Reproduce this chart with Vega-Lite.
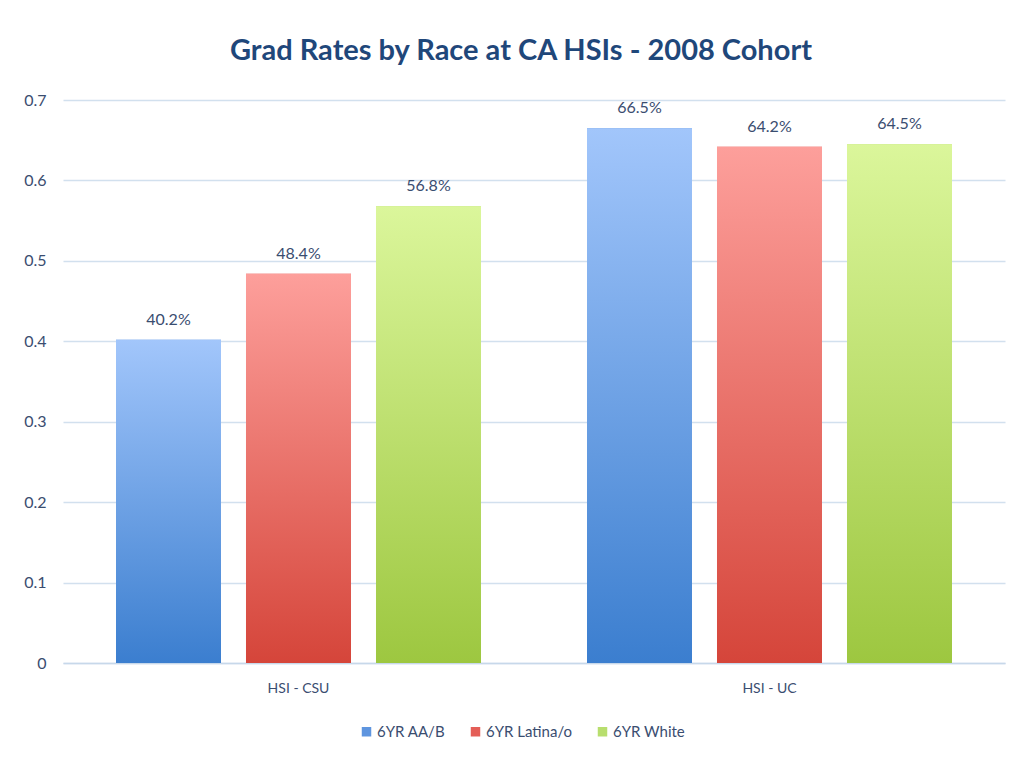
{
  "$schema": "https://vega.github.io/schema/vega-lite/v6.json",
  "width": 942,
  "height": 563,
  "autosize": {"type": "none"},
  "padding": {"left": 63, "top": 100, "right": 12, "bottom": 95},
  "background": "white",
  "title": {
    "text": "Grad Rates by Race at CA HSIs - 2008 Cohort",
    "font": "Lato",
    "fontSize": 29,
    "fontWeight": "bold",
    "color": "#1F477A",
    "anchor": "middle",
    "dx": -13,
    "offset": 26
  },
  "data": {
    "values": [
      {"group": "HSI - CSU", "series": "6YR AA/B", "value": 0.402},
      {"group": "HSI - CSU", "series": "6YR Latina/o", "value": 0.484},
      {"group": "HSI - CSU", "series": "6YR White", "value": 0.568},
      {"group": "HSI - UC", "series": "6YR AA/B", "value": 0.665},
      {"group": "HSI - UC", "series": "6YR Latina/o", "value": 0.642},
      {"group": "HSI - UC", "series": "6YR White", "value": 0.645}
    ]
  },
  "encoding": {
    "x": {
      "field": "group", "type": "nominal", "title": null,
      "scale": {"paddingInner": 0, "paddingOuter": 0},
      "axis": {"labelAngle": 0, "labelFont": "Lato", "labelFontSize": 14, "labelColor": "#3A4D70", "ticks": false, "domainColor": "#C7D8EA", "domainWidth": 1.5, "labelPadding": 18}
    },
    "xOffset": {"field": "series", "type": "nominal", "scale": {"paddingInner": 0.1923, "paddingOuter": 0.4077}},
    "y": {
      "field": "value", "type": "quantitative", "title": null,
      "scale": {"domain": [0, 0.7]},
      "axis": {"values": [0, 0.1, 0.2, 0.3, 0.4, 0.5, 0.6, 0.7], "format": "~g", "labelFont": "Lato", "labelFontSize": 16, "labelColor": "#3A4D70", "ticks": false, "domain": false, "gridColor": "#D2E0EE", "gridWidth": 1.5, "labelPadding": 17}
    }
  },
  "layer": [
    {
      "mark": {"type": "bar"},
      "encoding": {
        "color": {
          "field": "series", "type": "nominal",
          "scale": {"domain": ["6YR AA/B", "6YR Latina/o", "6YR White"], "range": ["#5E95DF", "#E45E57", "#B8DE6E"]},
          "legend": {
            "title": null, "orient": "none", "direction": "horizontal",
            "legendX": 296, "legendY": 624,
            "symbolType": "square", "symbolSize": 90, "symbolStrokeWidth": 0,
            "labelFont": "Lato", "labelFontSize": 15, "labelColor": "#3A4D70",
            "labelOffset": 3, "columnPadding": 22
          }
        }
      }
    },
    {
      "transform": [{"filter": "datum.series === '6YR AA/B'"}],
      "mark": {"type": "bar", "fill": {"gradient": "linear", "x1": 0, "y1": 0, "x2": 0, "y2": 1, "stops": [{"offset": 0, "color": "#A2C6FB"}, {"offset": 1, "color": "#3B7ECF"}]}}
    },
    {
      "transform": [{"filter": "datum.series === '6YR Latina/o'"}],
      "mark": {"type": "bar", "fill": {"gradient": "linear", "x1": 0, "y1": 0, "x2": 0, "y2": 1, "stops": [{"offset": 0, "color": "#FD9F9B"}, {"offset": 1, "color": "#D5453A"}]}}
    },
    {
      "transform": [{"filter": "datum.series === '6YR White'"}],
      "mark": {"type": "bar", "fill": {"gradient": "linear", "x1": 0, "y1": 0, "x2": 0, "y2": 1, "stops": [{"offset": 0, "color": "#DBF69B"}, {"offset": 1, "color": "#9DC740"}]}}
    },
    {
      "mark": {"type": "text", "baseline": "alphabetic", "dy": -15, "font": "Lato", "fontSize": 16, "color": "#3A4D70"},
      "encoding": {"text": {"field": "value", "type": "quantitative", "format": ".1%"}}
    }
  ],
  "config": {"view": {"stroke": null}}
}
